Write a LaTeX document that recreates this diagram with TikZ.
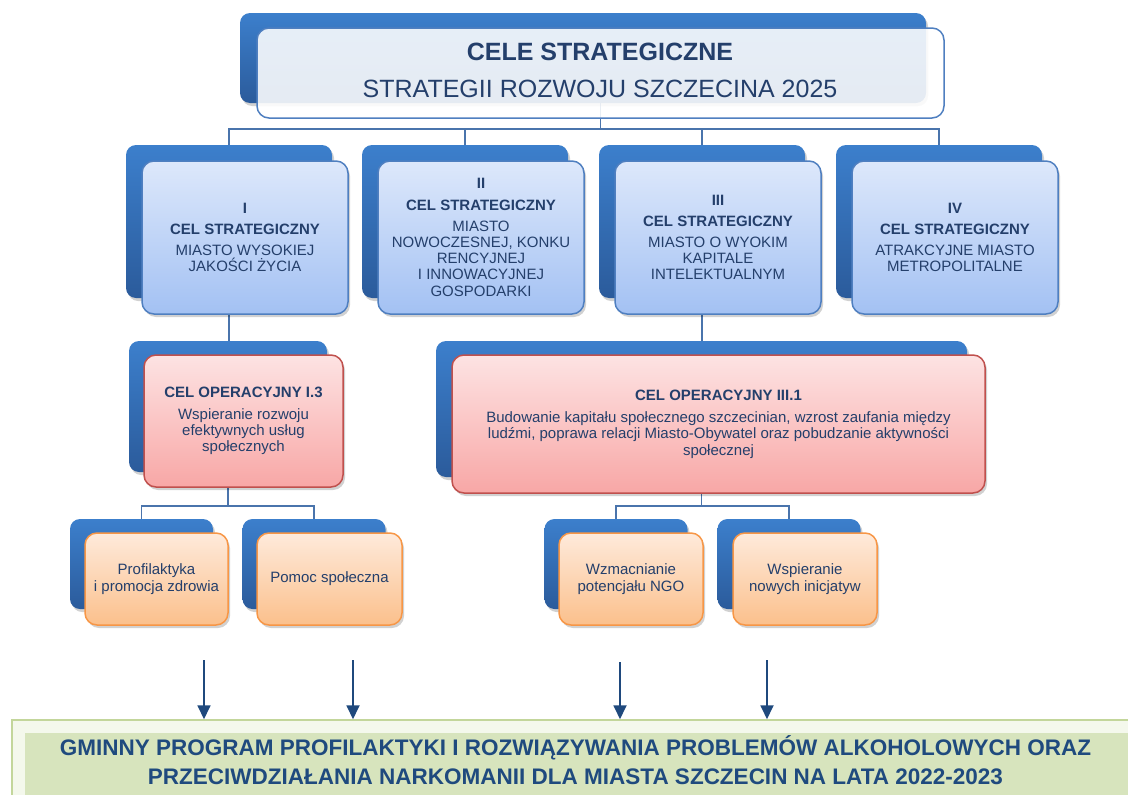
\documentclass[tikz,border=0pt]{standalone}
\usepackage{fontspec}
\setmainfont{Liberation Sans}
\usetikzlibrary{shadows,arrows.meta,backgrounds}
\definecolor{txt}{HTML}{243F6B}
\definecolor{txtb}{HTML}{1F4A7E}
\definecolor{bluetop}{HTML}{3C7FCC}
\definecolor{bluebot}{HTML}{2B5B9B}
\definecolor{stop}{HTML}{DDE8FB}
\definecolor{sbot}{HTML}{A3C1F3}
\definecolor{sdraw}{HTML}{4F7FC0}
\definecolor{otop}{HTML}{FDE3E3}
\definecolor{obot}{HTML}{F8A7A6}
\definecolor{odraw}{HTML}{C0504D}
\definecolor{ktop}{HTML}{FEEADB}
\definecolor{kbot}{HTML}{FBC08C}
\definecolor{kdraw}{HTML}{F79646}
\definecolor{conncol}{HTML}{4A74AC}
\definecolor{arrcol}{HTML}{1F497D}
\definecolor{green}{HTML}{D7E4BD}
\definecolor{greendraw}{HTML}{C3D69B}
\definecolor{greenpale}{HTML}{F4F8EC}
\begin{document}
\begin{tikzpicture}[x=1pt,y=-1pt,
  shad/.style={drop shadow={shadow xshift=2pt,shadow yshift=-3pt,opacity=.18,fill=black}},
  backb/.style={rounded corners=10pt,top color=bluetop,bottom color=bluebot,inner sep=0pt,shad},
  frontb/.style={rounded corners=12pt,line width=1.5pt,inner sep=0pt,align=center,text=txt,
    font=\fontsize{15}{16.3}\selectfont,shad},
  sbox/.style={frontb,top color=stop,bottom color=sbot,draw=sdraw},
  obox/.style={frontb,top color=otop,bottom color=obot,draw=odraw},
  kbox/.style={frontb,top color=ktop,bottom color=kbot,draw=kdraw},
  conn/.style={draw=conncol,line width=1.6pt},
  arr/.style={draw=arrcol,line width=1.8pt,-{Triangle[length=14pt,width=13pt]},arrcol}
]
\useasboundingbox (0,0) rectangle (1128,795);

% top box
\node[backb,minimum width=686pt,minimum height=90pt] (topb) at (583,58) {};
\node[rounded corners=12pt,draw=sdraw,line width=1.5pt,fill=white,fill opacity=.88,text opacity=1,
  minimum width=687pt,minimum height=90pt,inner sep=0pt,align=center,text=txt] (top) at (600.5,73) {};
\node[text=txt,align=center,font=\fontsize{25}{30}\selectfont] (topt) at (600,70.5)
  {\textbf{CELE STRATEGICZNE}\\[7pt]STRATEGII ROZWOJU SZCZECINA 2025};

% strategic goals
\foreach \n/\x in {1/229,2/465,3/702,4/939}{
  \node[backb,minimum width=206pt,minimum height=153pt] (s\n b) at (\x,221.5) {};
}
\node[sbox,minimum width=206pt,minimum height=153pt] (s1) at (245,237.5)
  {\textbf{I}\\[5pt]\textbf{CEL STRATEGICZNY}\\[4.5pt]MIASTO WYSOKIEJ\\JAKOŚCI ŻYCIA};
\node[sbox,minimum width=206pt,minimum height=153pt] (s2) at (481,237.5)
  {\textbf{II}\\[5pt]\textbf{CEL STRATEGICZNY}\\[4.5pt]MIASTO\\NOWOCZESNEJ, KONKU\\RENCYJNEJ\\I INNOWACYJNEJ\\GOSPODARKI};
\node[sbox,minimum width=206pt,minimum height=153pt] (s3) at (718,237.5)
  {\textbf{III}\\[5pt]\textbf{CEL STRATEGICZNY}\\[4.5pt]MIASTO O WYOKIM\\KAPITALE\\INTELEKTUALNYM};
\node[sbox,minimum width=206pt,minimum height=153pt] (s4) at (955,237.5)
  {\textbf{IV}\\[5pt]\textbf{CEL STRATEGICZNY}\\[4.5pt]ATRAKCYJNE MIASTO\\METROPOLITALNE};

% operational goals
\node[backb,minimum width=198pt,minimum height=131pt] (o1b) at (228,406.5) {};
\node[obox,minimum width=199pt,minimum height=132pt] (o1) at (243.5,421)
  {\textbf{CEL OPERACYJNY I.3}\\[5.5pt]Wspieranie rozwoju\\efektywnych usług\\społecznych};
\node[backb,minimum width=531pt,minimum height=136pt] (o2b) at (701.5,409) {};
\node[obox,minimum width=533pt,minimum height=138pt] (o2) at (718.5,424)
  {\textbf{CEL OPERACYJNY III.1}\\[6pt]Budowanie kapitału społecznego szczecinian, wzrost zaufania między\\ludźmi, poprawa relacji Miasto-Obywatel oraz pobudzanie aktywności\\społecznej};

% tasks
\foreach \n/\x in {1/141.5,2/314,3/616,4/789}{
  \node[backb,minimum width=143pt,minimum height=90pt] (t\n b) at (\x,564) {};
}
\node[kbox,minimum width=143pt,minimum height=92pt] (t1) at (156.5,579) {Profilaktyka\\i promocja zdrowia};
\node[kbox,minimum width=145pt,minimum height=92pt] (t2) at (329.5,579) {Pomoc społeczna};
\node[kbox,minimum width=144pt,minimum height=92pt] (t3) at (631,579) {Wzmacnianie\\potencjału NGO};
\node[kbox,minimum width=144pt,minimum height=92pt] (t4) at (805,579) {Wspieranie\\nowych inicjatyw};

% bottom program box
\node[draw=greendraw,line width=1.5pt,fill=greenpale,minimum width=1128pt,minimum height=82pt,inner sep=0pt] (gpf) at (576,761) {};
\node[fill=green,minimum width=1110pt,minimum height=67pt,inner sep=0pt] (gp) at (580,766.5) {};
\node[text=txtb,align=center,font=\bfseries\fontsize{22.5}{29}\selectfont] (gpt) at (575.5,760.5)
  {GMINNY PROGRAM PROFILAKTYKI I ROZWIĄZYWANIA PROBLEMÓW ALKOHOLOWYCH ORAZ\\PRZECIWDZIAŁANIA NARKOMANII DLA MIASTA SZCZECIN NA LATA 2022-2023};

% arrows
\coordinate (a1) at (204,660);
\coordinate (a2) at (353,660);
\coordinate (a3) at (620,662);
\coordinate (a4) at (767,660);
\foreach \a in {a1,a2,a3,a4}{
  \draw[arr] (\a) -- (\a |- gpf.north);
}

% connectors
\begin{scope}[on background layer]
  \draw[conn] (top.center) -- (top.south) -- ++(0,11);
  \draw[conn] (s1b.north) -- ++(0,-16) -| (s4b.north);
  \draw[conn] (s2b.north) -- ++(0,-16);
  \draw[conn] (s3b.north) -- ++(0,-16);
  \draw[conn] (s1b.south) -- (s1b.south |- o1b.north);
  \draw[conn] (s3b.south) -- (s3b.south |- o2b.north);
  \draw[conn] (t1b.north) -- ++(0,-13) -| (t2b.north);
  \draw[conn] (o1b.south) -- (o1b.south |- 0,506);
  \draw[conn] (t3b.north) -- ++(0,-13) -| (t4b.north);
  \draw[conn] (o2b.south) -- (o2b.south |- 0,506);
\end{scope}
\end{tikzpicture}
\end{document}
